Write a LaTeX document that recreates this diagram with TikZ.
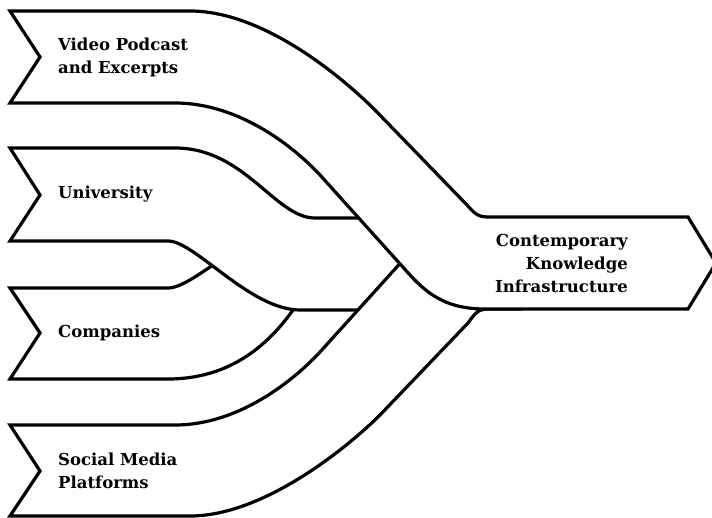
\documentclass[tikz,border=0pt]{standalone}
\usepackage{fontspec}
\setmainfont{DejaVu Serif}
\tikzset{
  ribbon/.style={draw=black, fill=white, line width=3.2pt},
  etiqueta/.style={anchor=west, align=left, inner sep=0pt, font=\bfseries\fontsize{16.5}{23}\selectfont},
}
\begin{document}
\begin{tikzpicture}[x=1pt,y=-1pt]
%
\useasboundingbox (0,0) rectangle (712,518);
\clip (0,0) rectangle (712,518);
%
% cintas, de abajo hacia arriba
% Companies
\draw[ribbon] (10,288) -- (40,333) -- (10,379) -- (168,379)
  .. controls (230,379) and (268,345) .. (293,310) -- (318,278) -- (318,230) -- (300,225)
  .. controls (250,225) and (195,288) .. (168,288) -- cycle;
% University
\draw[ribbon] (10,148) -- (40,195) -- (10,241) -- (168,241)
  .. controls (195,241) and (250,310) .. (300,310) -- (400,310) -- (400,218) -- (315,218)
  .. controls (275,218) and (245,148) .. (175,148) -- cycle;
% Social Media
\draw[ribbon] (10,425) -- (40,471) -- (10,516) -- (190,516)
  .. controls (265,516) and (350,445) .. (380,415) -- (468,323)
  .. controls (476,312) and (478,309) .. (490,309) -- (520,309) -- (520,248) -- (414,248)
  -- (320,352) .. controls (295,379) and (240,425) .. (175,425) -- cycle;
% Video Podcast + salida
\draw[ribbon] (10,11) -- (40,57) -- (10,103) -- (175,103)
  .. controls (240,103) and (295,148) .. (320,175) -- (410,275)
  .. controls (430,297) and (450,309) .. (485,309) -- (688,309) -- (716,263) -- (688,217) -- (490,217)
  .. controls (478,217) and (476,215) .. (467,205) -- (375,110)
  .. controls (345,80) and (265,11) .. (190,11) -- cycle;
%
\node[etiqueta] (1) at (58,57) {Video Podcast\\and Excerpts};
\node[etiqueta] (2) at (58,194) {University};
\node[etiqueta] (3) at (58,333) {Companies};
\node[etiqueta] (4) at (58,471) {Social Media\\Platforms};
\node[etiqueta, anchor=east, align=right] (5) at (628,263) {Contemporary\\Knowledge\\Infrastructure};
%
\end{tikzpicture}
\end{document}
